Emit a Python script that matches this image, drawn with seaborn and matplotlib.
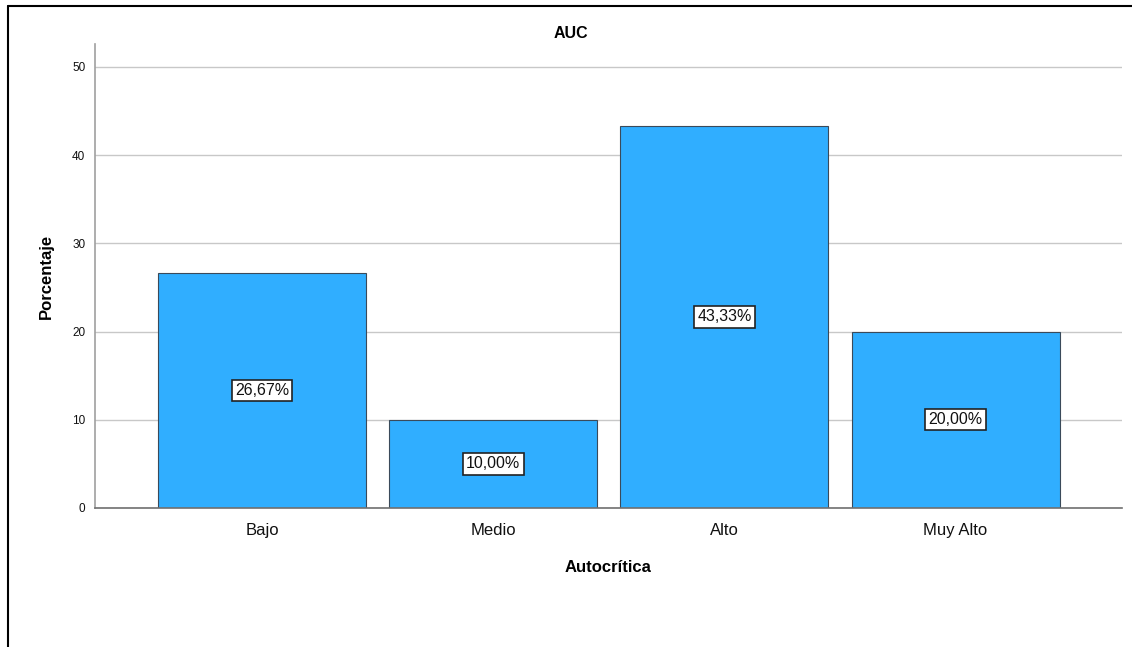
import matplotlib
matplotlib.use("Agg")
import matplotlib.pyplot as plt
import seaborn as sns
import pandas as pd
from matplotlib.lines import Line2D

categories = ["Bajo", "Medio", "Alto", "Muy Alto"]
percentages = [26.67, 10.00, 43.33, 20.00]
labels = ["26,67%", "10,00%", "43,33%", "20,00%"]
yticks = [0, 10, 20, 30, 40, 50]

df = pd.DataFrame({"cat": categories, "pct": percentages})

sns.set_style("white")
plt.rcParams["font.family"] = ["Liberation Sans", "DejaVu Sans"]

fig = plt.figure(figsize=(11.32, 6.47), dpi=100)
ax = fig.add_axes([95/1132, 1-508/647, (1122-95)/1132, (508-44)/647])

sns.barplot(data=df, x="cat", y="pct", order=categories, color="#30AEFF",
            saturation=1, width=0.9, edgecolor="#3a4a5a", linewidth=0.8, ax=ax, zorder=2)

ax.set_ylim(0, 52.6)
ax.set_xlim(-0.723, 3.72)
ax.set_yticks(yticks)
ax.set_yticklabels([str(t) for t in yticks], fontsize=8.5, color="#111111")
ax.tick_params(axis="x", labelsize=12, colors="#111111", length=0, pad=11)
ax.tick_params(axis="y", length=0, pad=7)
ax.yaxis.grid(True, color="#c8c8c8", linewidth=1, zorder=0)
ax.set_axisbelow(True)
for s in ["top", "right"]:
    ax.spines[s].set_visible(False)
for s in ["left", "bottom"]:
    ax.spines[s].set_color("#a0a0a0")
    ax.spines[s].set_linewidth(1.2)
ax.spines["bottom"].set_color("#707070")

ax.set_title("AUC", fontsize=11.5, fontweight="bold", pad=4, color="black", x=(571-95)/(1122-95))
ax.set_xlabel("Autocrítica", fontsize=12, fontweight="bold", labelpad=16, color="black")
ax.set_ylabel("Porcentaje", fontsize=12, fontweight="bold", labelpad=13, color="black")

for i, (v, lab) in enumerate(zip(percentages, labels)):
    ax.text(i, v / 2, lab, ha="center", va="center", fontsize=11.5, color="#111111",
            bbox=dict(boxstyle="square,pad=0.2", facecolor="white", edgecolor="#222222", linewidth=1.2),
            zorder=5)

# frame lines around figure (top and left)
fig.add_artist(Line2D([8/1132, 1], [1-6/647, 1-6/647], transform=fig.transFigure, color="black", linewidth=1.5))
fig.add_artist(Line2D([8/1132, 8/1132], [0, 1-6/647], transform=fig.transFigure, color="black", linewidth=1.5))

fig.savefig("out.png", dpi=100)
